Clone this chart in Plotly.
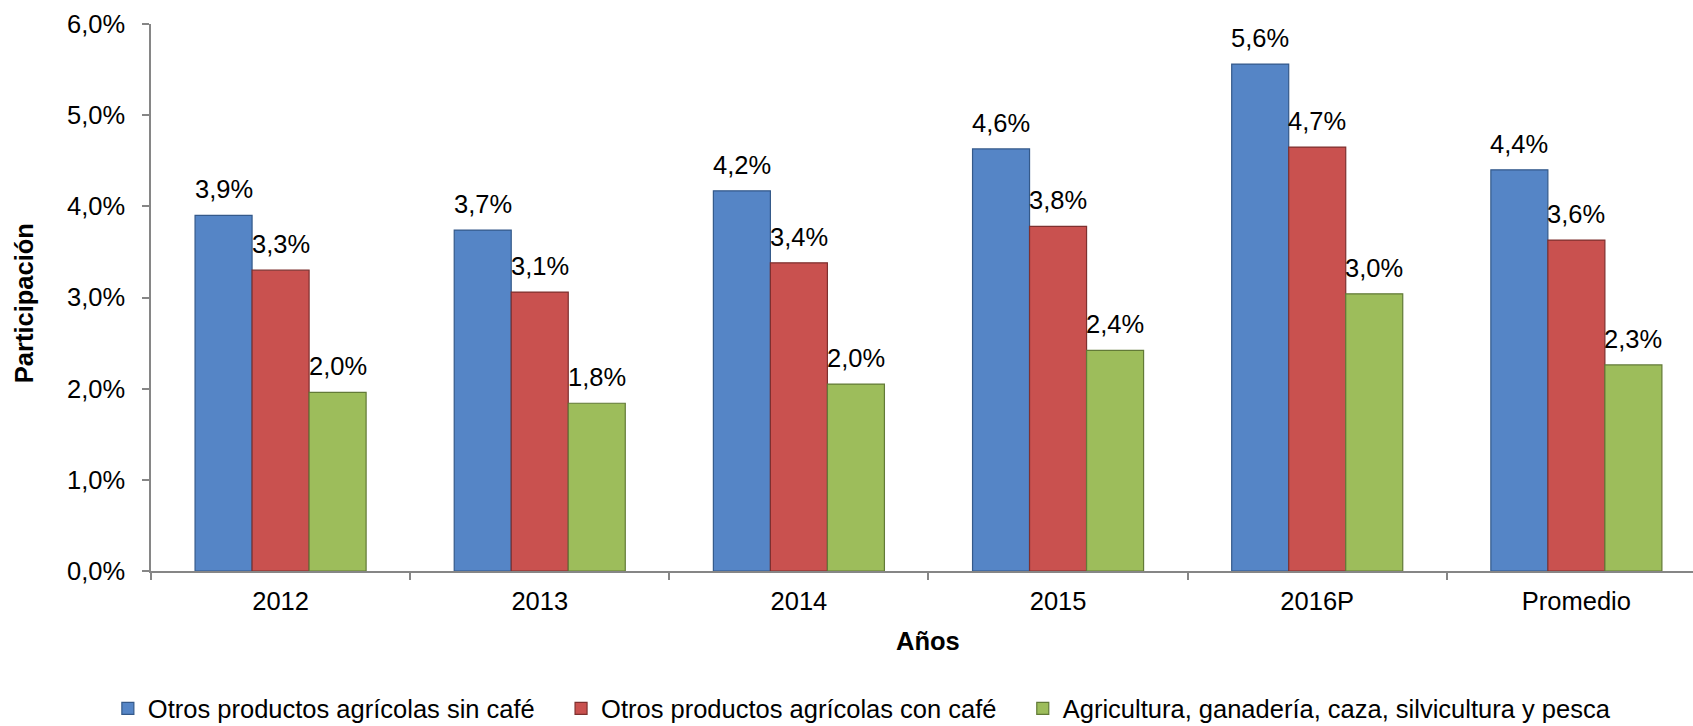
import plotly.graph_objects as go

categories = ["2012", "2013", "2014", "2015", "2016P", "Promedio"]
series_names = [
    "Otros productos agrícolas sin café",
    "Otros productos agrícolas con café",
    "Agricultura, ganadería, caza, silvicultura y pesca",
]
sin_cafe = [3.90, 3.74, 4.17, 4.63, 5.56, 4.40]
con_cafe = [3.30, 3.06, 3.38, 3.78, 4.65, 3.63]
agricultura = [1.96, 1.84, 2.05, 2.42, 3.04, 2.26]
labels_sin = ["3,9%", "3,7%", "4,2%", "4,6%", "5,6%", "4,4%"]
labels_con = ["3,3%", "3,1%", "3,4%", "3,8%", "4,7%", "3,6%"]
labels_agr = ["2,0%", "1,8%", "2,0%", "2,4%", "3,0%", "2,3%"]
y_ticks = [0, 1, 2, 3, 4, 5, 6]
y_ticktext = ["0,0%", "1,0%", "2,0%", "3,0%", "4,0%", "5,0%", "6,0%"]

colors = ["#5585C6", "#C9514F", "#9DBD5B"]
edges = ["#34598A", "#7E302F", "#627A37"]
FONT = "Liberation Sans, Arial, sans-serif"
FS = 25.5
PAD = "\u00a0\u00a0\u00a0"

fig = go.Figure()
all_vals = [sin_cafe, con_cafe, agricultura]
all_labels = [labels_sin, labels_con, labels_agr]
for k, (name, vals, c, e) in enumerate(zip(series_names, all_vals, colors, edges)):
    fig.add_trace(go.Bar(
        x=categories, y=vals, name=name + (PAD if k < 2 else ""),
        marker=dict(color=c, line=dict(color=e, width=1.2)),
        hoverinfo="skip",
    ))

bargap = 0.34
bw = (1 - bargap) / 3
annotations = []
for i, (vals, labs) in enumerate(zip(all_vals, all_labels)):
    for j, (v, t) in enumerate(zip(vals, labs)):
        annotations.append(dict(
            x=j + (i - 1) * bw, y=v, xref="x", yref="y",
            text=t, showarrow=False, yanchor="bottom", xanchor="center",
            yshift=10, font=dict(family=FONT, size=FS, color="#000000"),
        ))

annotations.append(dict(
    x=2.5, y=-0.128, xref="x", yref="paper", text="<b>Años</b>",
    showarrow=False, xanchor="center", yanchor="middle",
    font=dict(family=FONT, size=FS, color="#000000"),
))
annotations.append(dict(
    x=-0.0822, y=0.49, xref="paper", yref="paper", text="<b>Participación</b>",
    showarrow=False, xanchor="center", yanchor="middle", textangle=-90,
    font=dict(family=FONT, size=FS, color="#000000"),
))

fig.update_layout(
    width=1693, height=726,
    margin=dict(l=151, r=0, t=24, b=155, autoexpand=False),
    paper_bgcolor="white", plot_bgcolor="white",
    barmode="group", bargap=bargap, bargroupgap=0.0,
    font=dict(family=FONT, size=FS, color="#000000"),
    showlegend=True,
    legend=dict(
        orientation="h", x=0.461, xanchor="center",
        yref="container", y=0.056, yanchor="top",
        font=dict(family=FONT, size=FS, color="#000000"),
        itemclick=False, itemdoubleclick=False,
    ),
    annotations=annotations,
)
fig.update_xaxes(
    type="category", range=[-0.5, 5.45], automargin=False,
    showline=True, linecolor="#868686", linewidth=1.5,
    ticks="outside", tickson="boundaries", ticklen=7, tickcolor="#868686",
    tickwidth=1.5, showgrid=False, zeroline=False, ticklabelstandoff=7,
    tickfont=dict(family=FONT, size=FS, color="#000000"),
)
fig.update_yaxes(
    range=[0, 6], tickvals=y_ticks, ticktext=y_ticktext, automargin=False,
    showline=True, linecolor="#868686", linewidth=1.5,
    ticks="outside", ticklen=7, tickcolor="#868686", tickwidth=1.5,
    showgrid=False, zeroline=False, ticklabelstandoff=12,
    tickfont=dict(family=FONT, size=FS, color="#000000"),
)

fig.write_html(
    "out.html",
    config={"displayModeBar": False},
    post_script="document.body.style.margin='0';document.body.style.overflow='hidden';",
)
